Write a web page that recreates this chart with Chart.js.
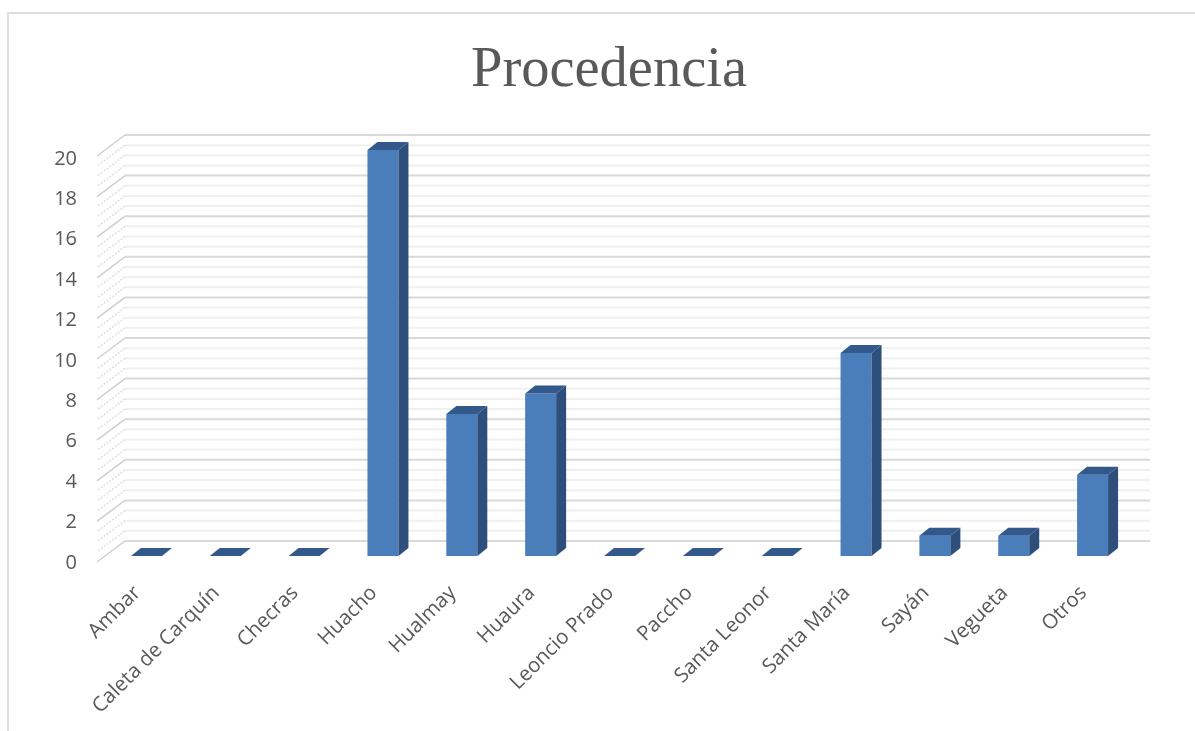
<!DOCTYPE html>
<html><head><meta charset="utf-8">
<script src="https://cdn.jsdelivr.net/npm/chart.js@4"></script>
<style>
html,body{margin:0;padding:0;background:#fff;overflow:hidden}
#wrap{position:absolute;left:0;top:0;width:1195px;height:731px}
#frame{position:absolute;left:7px;top:12px;width:1400px;height:800px;border-left:2px solid #dedede;border-top:2px solid #dedede}
canvas{position:absolute;left:0;top:0}
</style></head><body>
<div id="wrap"><div id="frame"></div><canvas id="c" width="1195" height="731"></canvas></div>
<script>
const categories = ["Ambar","Caleta de Carquín","Checras","Huacho","Hualmay","Huaura","Leoncio Prado","Paccho","Santa Leonor","Santa María","Sayán","Vegueta","Otros"];
const values = [0,0,0,20,7,8,0,0,0,10,1,1,4];
const yTickLabels = [0,2,4,6,8,10,12,14,16,18,20];
const chartTitle = "Procedencia";

const depth = {dx:10, dy:8};
const wall = {backLeft:125, backRight:1150, frontLeft:97, backDy:-15, frontDy:6};

const wall3d = {
  id:'wall3d',
  beforeDatasetsDraw(chart){
    const ctx = chart.ctx, y = chart.scales.y;
    const maxV = yTickLabels[yTickLabels.length-1];
    ctx.save();
    for(let v=0; v<=maxV; v+=0.5){
      const major = v%2===0;
      const p = y.getPixelForValue(v);
      ctx.strokeStyle = major ? '#d9d9d9' : '#f0f0f0';
      ctx.lineWidth = 2;
      ctx.setLineDash([]);
      ctx.beginPath();
      ctx.moveTo(wall.backLeft, p+wall.backDy);
      ctx.lineTo(wall.backRight, p+wall.backDy);
      ctx.stroke();
      ctx.strokeStyle = major ? '#cfcfcf' : '#dedede';
      ctx.lineWidth = 1.5;
      ctx.setLineDash(major?[]:[2,1.5]);
      ctx.beginPath();
      ctx.moveTo(wall.backLeft, p+wall.backDy);
      ctx.lineTo(wall.frontLeft, p+wall.frontDy);
      ctx.stroke();
    }
    ctx.restore();
  },
  afterDatasetsDraw(chart){
    const ctx = chart.ctx;
    const {dx,dy} = depth;
    ctx.save();
    chart.getDatasetMeta(0).data.forEach((bar,i)=>{
      const l = bar.x-bar.width/2, r = bar.x+bar.width/2, t = bar.y, b = bar.base;
      if(b-t>0.5){
        ctx.fillStyle='#2e4f7c';
        ctx.beginPath();
        ctx.moveTo(r,t);ctx.lineTo(r+dx,t-dy);ctx.lineTo(r+dx,b-dy);ctx.lineTo(r,b);
        ctx.closePath();ctx.fill();
      }
      ctx.fillStyle='#32588c';
      ctx.beginPath();
      ctx.moveTo(l,t);ctx.lineTo(l+dx,t-dy);ctx.lineTo(r+dx,t-dy);ctx.lineTo(r,t);
      ctx.closePath();ctx.fill();
    });
    ctx.restore();
  }
};

new Chart(document.getElementById('c'),{
  type:'bar',
  data:{labels:categories,datasets:[{data:values,yAxisID:'y',backgroundColor:'#4a7ebb',borderWidth:0,barPercentage:0.393,categoryPercentage:1}]},
  plugins:[wall3d],
  options:{
    responsive:false,animation:false,
    layout:{padding:{left:23,right:0,top:0,bottom:0}},
    plugins:{
      legend:{display:false},tooltip:{enabled:false},
      title:{display:true,text:chartTitle,color:'#595959',font:{family:'"Liberation Serif"',size:56.5,weight:'normal'},lineHeight:1.2,padding:{top:37,bottom:25.2}}
    },
    scales:{
      x:{
        grid:{display:false},border:{display:false},
        ticks:{color:'#595959',font:{family:'"Open Sans"',size:20.5},minRotation:45,maxRotation:45,autoSkip:false,padding:8,labelOffset:-9},
        afterFit(s){s.height=166;}
      },
      y:{display:false,min:-0.443,max:20.985},
      y2:{
        position:'left',min:-0.1,max:21.43,
        grid:{display:false},border:{display:false},
        afterBuildTicks(s){s.ticks=yTickLabels.map(v=>({value:v}));},
        ticks:{color:'#595959',font:{family:'"Open Sans"',size:20},padding:22,autoSkip:false},
        afterFit(s){s.width=84;}
      },
      spacer:{
        position:'right',grid:{display:false},border:{display:false},
        ticks:{display:false},
        afterFit(s){s.width=63;}
      }
    }
  }
});
</script></body></html>
